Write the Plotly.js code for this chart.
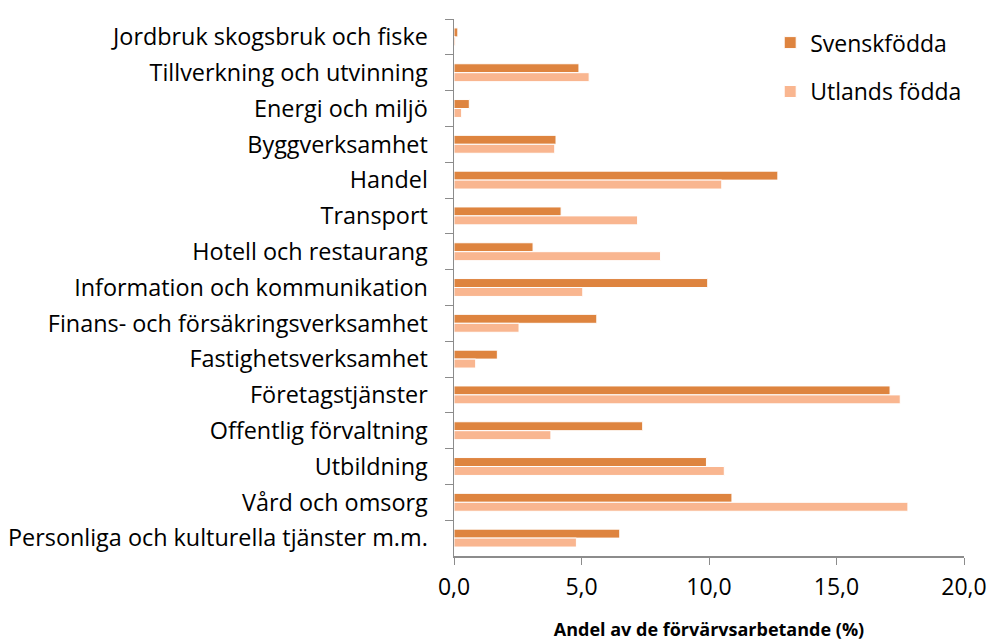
<!DOCTYPE html>
<html><head><meta charset="utf-8">
<script src="https://cdn.plot.ly/plotly-3.0.1.min.js"></script>
<style>html,body{margin:0;padding:0;background:#fff}#chart{width:990px;height:642px}</style>
</head><body><div id="chart"></div>
<script>
const categories = [
  "Jordbruk skogsbruk och fiske",
  "Tillverkning och utvinning",
  "Energi och miljö",
  "Byggverksamhet",
  "Handel",
  "Transport",
  "Hotell och restaurang",
  "Information och kommunikation",
  "Finans- och försäkringsverksamhet",
  "Fastighetsverksamhet",
  "Företagstjänster",
  "Offentlig förvaltning",
  "Utbildning",
  "Vård och omsorg",
  "Personliga och kulturella tjänster m.m."
];
const svenskfodda = [0.15, 4.9, 0.6, 4.0, 12.7, 4.2, 3.1, 9.95, 5.6, 1.7, 17.1, 7.4, 9.9, 10.9, 6.5];
const utlandsfodda = [0.05, 5.3, 0.3, 3.95, 10.5, 7.2, 8.1, 5.05, 2.55, 0.85, 17.5, 3.8, 10.6, 17.8, 4.8];
const seriesNames = ["Svenskfödda", "Utlands födda"];
const tickVals = [0, 5, 10, 15, 20];

const font = "'Open Sans', sans-serif";
const traces = [
  {type:'bar', orientation:'h', name:seriesNames[0], y:categories, x:svenskfodda, legendgroup:'a',
   marker:{color:'#DE843F', line:{color:'#ffffff', width:1}}},
  {type:'bar', orientation:'h', name:seriesNames[1], y:categories, x:utlandsfodda, legendgroup:'b',
   marker:{color:'#F9B690', line:{color:'#ffffff', width:1}}}
];
const layout = {
  width:990, height:642,
  margin:{l:454, r:26, t:19, b:86},
  paper_bgcolor:'#fff', plot_bgcolor:'#fff',
  separators:', ',
  barmode:'group', bargap:0.5, bargroupgap:0,
  showlegend:true,
  legend:{x:0.62, y:0.996, xanchor:'left', yanchor:'top', tracegroupgap:16,
          font:{family:font, size:23, color:'#000'}, bgcolor:'rgba(0,0,0,0)'},
  xaxis:{range:[0,20], tickvals:tickVals, tickformat:'.1f', showgrid:false, zeroline:false,
         showline:true, linecolor:'#8c8c8c', linewidth:1.5, ticks:'outside', ticklen:7, tickcolor:'#8c8c8c',
         ticklabelstandoff:3,
         tickfont:{family:font, size:23, color:'#000'},
         title:{text:'<b>Andel av de förvärvsarbetande (%)</b>', font:{family:font, size:18, color:'#000'}, standoff:22}},
  yaxis:{type:'category', autorange:'reversed', showgrid:false, zeroline:false,
         showline:true, linecolor:'#8c8c8c', linewidth:1.5, ticks:'outside', ticklen:8, tickcolor:'#8c8c8c',
         tickson:'boundaries', ticklabelstandoff:20,
         tickfont:{family:font, size:23.4, color:'#000'}}
};
Plotly.newPlot('chart', traces, layout, {displayModeBar:false, staticPlot:true});
</script></body></html>
